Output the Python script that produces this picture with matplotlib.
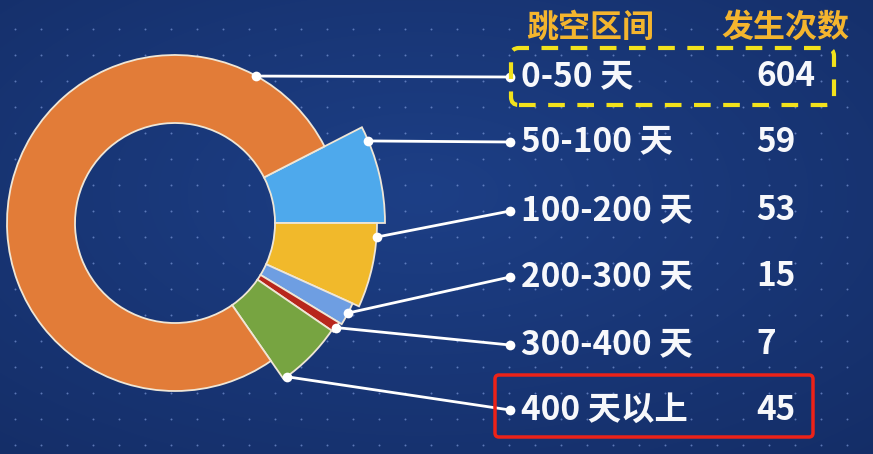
import numpy as np
import matplotlib
matplotlib.use("Agg")
from matplotlib import pyplot as plt
from matplotlib.patches import Wedge, FancyBboxPatch

plt.rcParams['font.family'] = ['Noto Sans CJK SC', 'DejaVu Sans']

# data
ranges = ['0-50 天', '50-100 天', '100-200 天', '200-300 天', '300-400 天', '400 天以上']
counts = [604, 59, 53, 15, 7, 45]
headers = ['跳空区间', '发生次数']
colors = ['#e27c38', '#4ea9ec', '#f1b92b', '#6e9ee2', '#b8261c', '#77a441']

# layout (pixels, y up)
W, H = 873, 454
cx, cy = 175, 231
r_in = 100
r_out = [168, 210, 202, 195, 192, 190]
anchor_deg = [61, 23, -4, -27.5, -33, -54]
row_y = [377, 312, 243, 177, 109, 44]
dot_x, text_x, val_x = 510, 521, 756


def main():
    fig = plt.figure(figsize=(W / 100, H / 100), dpi=100)
    ax = fig.add_axes([0, 0, 1, 1])
    ax.set_xlim(0, W)
    ax.set_ylim(0, H)
    ax.axis('off')

    # background gradient + dot grid
    yy, xx = np.mgrid[0:H, 0:W]
    d = np.hypot((xx - 420) / W, (yy - 260) / H)
    c0 = np.array([0x1d, 0x3f, 0x86]) / 255
    c1 = np.array([0x14, 0x2d, 0x66]) / 255
    t = np.clip(d / 0.8, 0, 1)[..., None]
    ax.imshow(c0 * (1 - t) + c1 * t, extent=(0, W, 0, H), origin='lower',
              aspect='auto', zorder=0)
    gx, gy = np.meshgrid(np.arange(15, W, 26), np.arange(H - 29, 0, -26))
    ax.scatter(gx.ravel(), gy.ravel(), s=2, color='#8aa6e6', alpha=0.6,
               lw=0, zorder=1)

    # wedges: clockwise from blue (ends at 0 deg), orange last
    total = sum(counts)
    order = [1, 2, 3, 4, 5, 0]
    a = 360 * counts[1] / total
    for i in order:
        span = 360 * counts[i] / total
        ax.add_patch(Wedge((cx, cy), r_out[i], a - span, a,
                           width=r_out[i] - r_in, facecolor=colors[i],
                           edgecolor='#efe6d6', lw=1.3, zorder=3))
        a -= span

    # leader lines and labels
    for i in range(len(counts)):
        th = np.deg2rad(anchor_deg[i])
        x0 = cx + r_out[i] * np.cos(th)
        y0 = cy + r_out[i] * np.sin(th)
        ax.plot([x0, dot_x], [y0, row_y[i]], color='white', lw=2, zorder=4,
                marker='o', markersize=7, markeredgewidth=0)
        ax.text(text_x, row_y[i], ranges[i], color='#f7f8fb', fontsize=24,
                fontweight='bold', va='center', ha='left', zorder=5)
        ax.text(val_x, row_y[i], str(counts[i]), color='#f7f8fb', fontsize=24,
                fontweight='bold', va='center', ha='left', zorder=5)

    ax.text(526, 426, headers[0], color='#f4b52e', fontsize=23,
            fontweight='bold', va='center', ha='left', zorder=5)
    ax.text(721, 426, headers[1], color='#f4b52e', fontsize=23,
            fontweight='bold', va='center', ha='left', zorder=5)

    ax.add_patch(FancyBboxPatch((511, 349), 323, 57,
                                boxstyle='round,pad=0,rounding_size=8',
                                fill=False, edgecolor='#f2e21c', lw=3,
                                linestyle=(0, (4, 3)), zorder=5))
    ax.add_patch(FancyBboxPatch((495, 17), 318, 62,
                                boxstyle='round,pad=0,rounding_size=4',
                                fill=False, edgecolor='#ec2218', lw=2.5,
                                zorder=5))

    fig.savefig('out.png', dpi=100)


if __name__ == "__main__":
    main()
